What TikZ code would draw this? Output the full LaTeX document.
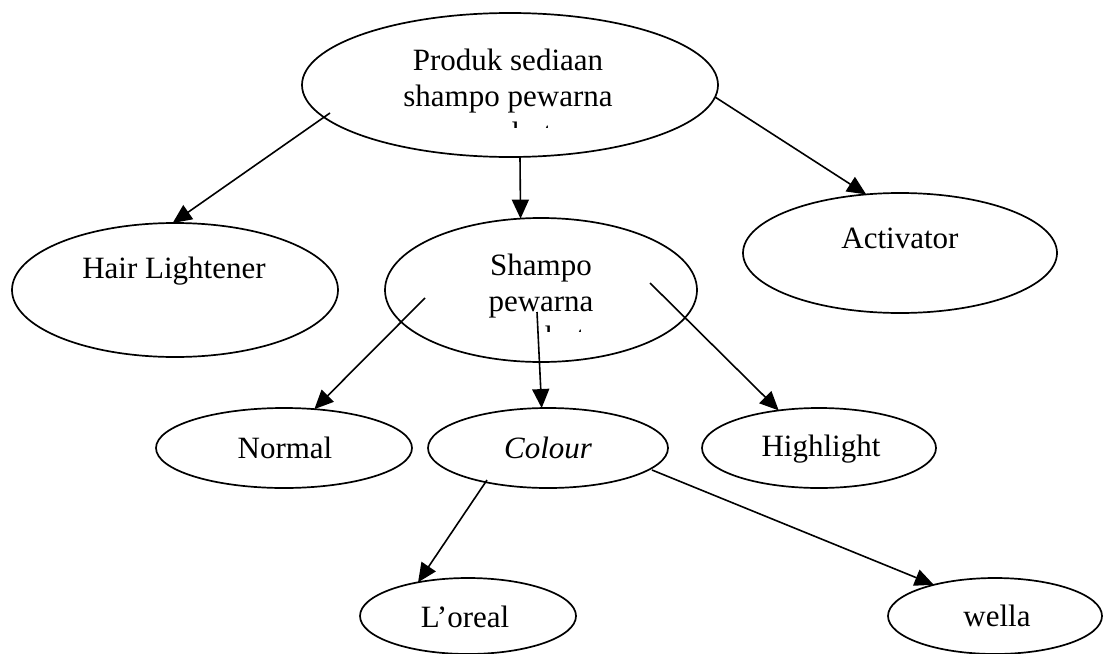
\documentclass[tikz,border=0pt]{standalone}
\usepackage{fontspec}
\setmainfont{Liberation Serif}
\usetikzlibrary{shapes.geometric,arrows.meta}
\begin{document}
\begin{tikzpicture}[x=1pt,y=-1pt,
  oval/.style={draw,ellipse,line width=1.7pt,inner sep=0pt,outer sep=0pt},
  txt/.style={inner sep=0pt,anchor=base,font=\fontsize{31}{36}\selectfont},
  conn/.style={line width=1.6pt,-{Triangle[length=19pt,width=17pt]}}]
\useasboundingbox (0,0) rectangle (1105,653);
% ellipses
\node[oval,minimum width=416pt,minimum height=144pt] (top) at (510,85) {};
\node[oval,minimum width=326pt,minimum height=134pt] (hair) at (175,290) {};
\node[oval,minimum width=312pt,minimum height=144pt] (shampo) at (541,290) {};
\node[oval,minimum width=314pt,minimum height=120pt] (act) at (900,253) {};
\node[oval,minimum width=256pt,minimum height=80pt] (normal) at (284,448) {};
\node[oval,minimum width=240pt,minimum height=80pt] (colour) at (548,448) {};
\node[oval,minimum width=234pt,minimum height=80pt] (high) at (819,448) {};
\node[oval,minimum width=216pt,minimum height=76pt] (loreal) at (468,616) {};
\node[oval,minimum width=214pt,minimum height=76pt] (wella) at (995,616) {};
% texts
\node[txt] (topT1) at (508,70) {Produk sediaan};
\node[txt] (topT2) at (508,106) {shampo pewarna};
\begin{scope}
  \clip (300,0) rectangle (720,127);
  \node[txt] (topT3) at (508,143) {rambut};
\end{scope}
\node[txt] (hairT) at (174,278) {Hair Lightener};
\node[txt] (actT) at (900,248) {Activator};
\node[txt] (shT1) at (541,275) {Shampo};
\node[txt] (shT2) at (541,311) {pewarna};
\begin{scope}
  \clip (380,200) rectangle (700,331);
  \node[txt] (shT3) at (541,347) {rambut};
\end{scope}
\node[txt] (normalT) at (285,458) {Normal};
\node[txt] (colourT) at (548,458) {\itshape Colour};
\node[txt] (highT) at (821,456) {Highlight};
\node[txt] (lorealT) at (465,627) {L’oreal};
\node[txt] (wellaT) at (997,626) {wella};
% connector start points
\coordinate (s1) at (330,113);
\coordinate (s2) at (520,157);
\coordinate (s3) at (715,97);
\coordinate (s4) at (425,298);
\coordinate (s5) at (537,312);
\coordinate (s6) at (650,283);
\coordinate (s7) at (487,480);
\coordinate (s8) at (652,470);
% connectors
\draw[conn] (s1) -- (hair.92.6);
\draw[conn] (s2) -- (shampo.106.3);
\draw[conn] (s3) -- (act.120);
\draw[conn] (s4) -- (normal.52.2);
\draw[conn] (s5) -- (colour.99.9);
\draw[conn] (s6) -- (high.137.8);
\draw[conn] (s7) -- (loreal.146.8);
\draw[conn] (s8) -- (wella.153.4);
\end{tikzpicture}
\end{document}
